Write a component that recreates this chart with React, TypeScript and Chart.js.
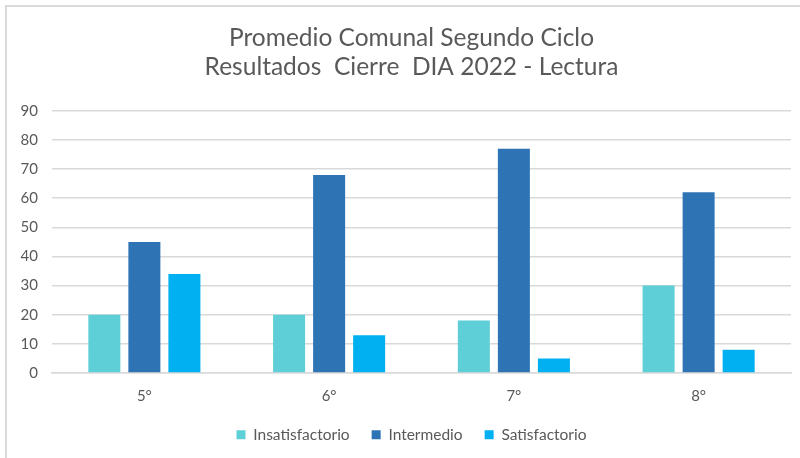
import React, { useEffect, useRef } from "react";
import { Chart, registerables } from "chart.js";

Chart.register(...registerables);

const categories = ["5°", "6°", "7°", "8°"];
const insatisfactorio = [20, 20, 18, 30];
const intermedio = [45, 68, 77, 62];
const satisfactorio = [34, 13, 5, 8];
const titleLines = ["Promedio Comunal Segundo Ciclo", "Resultados  Cierre  DIA 2022 - Lectura"];

const FONT = "Lato, 'Open Sans', sans-serif";
const GRAY = "#595959";
const SHIFT = 16;

function wrapDraw(box: any) {
  if (!box || box.__wrapped) return;
  const orig = box.draw.bind(box);
  box.draw = function (...args: any[]) {
    const ctx = this.ctx;
    ctx.save();
    ctx.translate(SHIFT, 0);
    orig(...args);
    ctx.restore();
  };
  box.__wrapped = true;
}

const framePlugin = {
  id: "frameBorder",
  beforeLayout(chart: any) {
    const lg = chart.legend;
    if (lg && !lg.__fitWrapped) {
      const orig = lg.fit.bind(lg);
      lg.fit = function () {
        orig();
        this.height = 53;
      };
      lg.__fitWrapped = true;
    }
    wrapDraw(chart.legend);
    wrapDraw(chart.titleBlock);
  },
  beforeDraw(chart: any) {
    const ctx = chart.ctx;
    ctx.save();
    ctx.fillStyle = "#ffffff";
    ctx.fillRect(0, 0, chart.width, chart.height);
    ctx.fillStyle = "#d9d9d9";
    ctx.fillRect(5, 5, chart.width - 5, 2);
    ctx.fillRect(5, 5, 2, chart.height - 5);
    ctx.restore();
  },
};

export default function App() {
  const ref = useRef<HTMLCanvasElement | null>(null);
  useEffect(() => {
    document.body.style.margin = "0";
    const chart = new Chart(ref.current!, {
      type: "bar",
      data: {
        labels: categories,
        datasets: [
          { label: "Insatisfactorio", data: insatisfactorio, backgroundColor: "#5ECFD6" },
          { label: "Intermedio", data: intermedio, backgroundColor: "#2E74B5" },
          { label: "Satisfactorio", data: satisfactorio, backgroundColor: "#00B0F0" },
        ],
      },
      options: {
        animation: false,
        responsive: false,
        maintainAspectRatio: false,
        datasets: { bar: { barPercentage: 0.8, categoryPercentage: 0.65 } },
        layout: { padding: { top: 23, right: 9, left: 0, bottom: 0 } },
        plugins: {
          title: {
            display: true,
            text: titleLines,
            color: GRAY,
            font: { family: FONT, size: 24.5, weight: "normal", lineHeight: 1.2 },
            padding: { top: 0, bottom: 29 },
          },
          legend: {
            position: "bottom",
            labels: {
              color: GRAY,
              font: { family: FONT, size: 15.5 },
              boxWidth: 9,
              boxHeight: 9,
              padding: 22,
            },
          },
          tooltip: { enabled: false },
        },
        scales: {
          x: {
            grid: { display: false },
            border: { display: true, color: "#d9d9d9", width: 1.5 },
            ticks: { color: GRAY, font: { family: FONT, size: 15 }, padding: 6 },
            afterFit(scale: any) {
              scale.height = 32;
            },
          },
          y: {
            min: 0,
            max: 90,
            ticks: { stepSize: 10, color: GRAY, font: { family: FONT, size: 15 }, padding: 14 },
            grid: { color: "#d9d9d9", lineWidth: 1.5, drawTicks: false },
            border: { display: false },
            afterFit(scale: any) {
              scale.width = 52;
            },
          },
        },
      },
      plugins: [framePlugin],
    });
    return () => chart.destroy();
  }, []);
  return (
    <div style={{ position: "absolute", left: 0, top: 0, width: 800, height: 458 }}>
      <canvas ref={ref} width={800} height={458} />
    </div>
  );
}
